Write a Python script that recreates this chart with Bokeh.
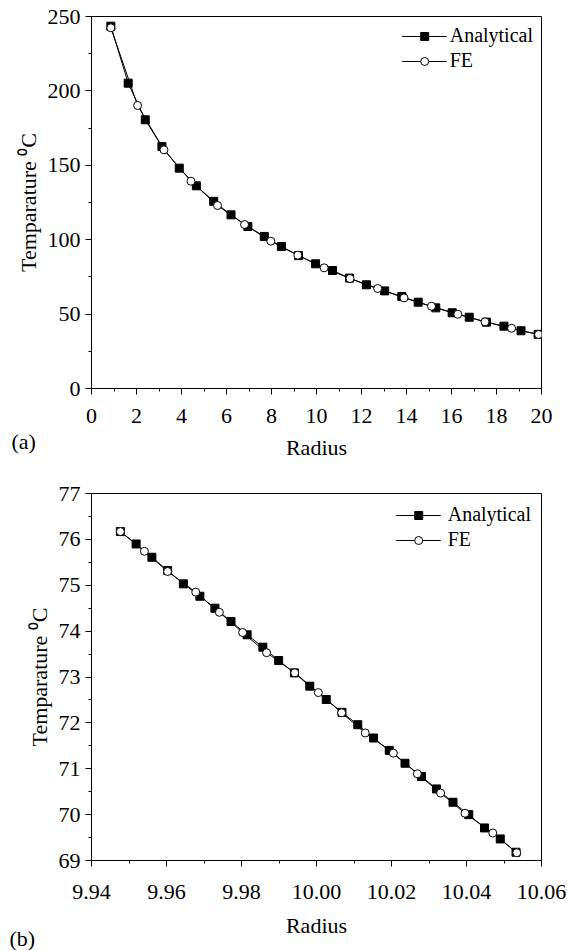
from bokeh.plotting import figure
from bokeh.layouts import column
from bokeh.models import FixedTicker, NumeralTickFormatter, Label
from bokeh.embed import file_html
from bokeh.resources import INLINE

# ---------------- data: panel (a) ----------------
a_analytical_r = [0.86, 1.63, 2.39, 3.13, 3.90, 4.66, 5.43, 6.20, 6.95, 7.68, 8.44, 9.20, 9.96,
                  10.71, 11.47, 12.22, 13.03, 13.79, 14.52, 15.30, 16.03, 16.79, 17.55, 18.33,
                  19.09, 19.85]
a_analytical_t = [243.5, 205.2, 180.6, 162.6, 148.1, 136.2, 125.8, 116.7, 108.9, 102.2, 95.4,
                  89.3, 83.8, 79.3, 74.2, 69.7, 65.6, 61.8, 58.0, 54.2, 50.9, 47.9, 44.6, 41.9,
                  38.8, 36.4]
a_fe_r = [0.86, 2.05, 3.22, 4.42, 5.60, 6.80, 7.97, 9.17, 10.34, 11.49, 12.72, 13.89, 15.11,
          16.28, 17.49, 18.67, 19.87]
a_fe_t = [242.4, 190.2, 160.4, 139.3, 123.0, 110.2, 99.0, 89.6, 81.1, 73.9, 67.2, 60.9, 55.3,
          49.9, 44.8, 40.5, 36.3]
a_x_ticks = [0, 2, 4, 6, 8, 10, 12, 14, 16, 18, 20]
a_x_minor = [1, 3, 5, 7, 9, 11, 13, 15, 17, 19]
a_y_ticks = [0, 50, 100, 150, 200, 250]
a_y_minor = [25, 75, 125, 175, 225]

# ---------------- data: panel (b) ----------------
b_analytical_r = [9.9477, 9.9519, 9.9561, 9.9603, 9.9645, 9.9689, 9.9729, 9.9772, 9.9815,
                  9.9857, 9.9899, 9.9941, 9.9982, 10.0026, 10.0068, 10.0110, 10.0152, 10.0194,
                  10.0236, 10.0280, 10.0320, 10.0364, 10.0406, 10.0448, 10.0490, 10.0532]
b_analytical_t = [76.17, 75.90, 75.61, 75.32, 75.03, 74.76, 74.50, 74.21, 73.92, 73.65, 73.36,
                  73.09, 72.80, 72.51, 72.23, 71.96, 71.67, 71.40, 71.12, 70.83, 70.56, 70.27,
                  70.00, 69.71, 69.47, 69.18]
b_fe_r = [9.9477, 9.9541, 9.9603, 9.9678, 9.9741, 9.9803, 9.9867, 9.9942, 10.0005, 10.0067,
          10.0130, 10.0205, 10.0269, 10.0331, 10.0396, 10.0470, 10.0534]
b_fe_t = [76.17, 75.74, 75.30, 74.85, 74.41, 73.97, 73.53, 73.09, 72.66, 72.22, 71.78, 71.34,
          70.89, 70.47, 70.03, 69.60, 69.17]
b_x_ticks = [9.94, 9.96, 9.98, 10.00, 10.02, 10.04, 10.06]
b_x_minor = [9.95, 9.97, 9.99, 10.01, 10.03, 10.05]
b_y_ticks = [69, 70, 71, 72, 73, 74, 75, 76, 77]
b_y_minor = [69.5, 70.5, 71.5, 72.5, 73.5, 74.5, 75.5, 76.5]

x_title = "Radius"
y_title = "Temparature \u2070C"
series_names = ["Analytical", "FE"]

FONT = "Liberation Serif"


def make_panel(ar, at, fr, ft, xt, xm, yt, ym, xr, yr, w, h, borders, tag, tag_pos, leg, stand):
    p = figure(width=w, height=h, x_range=xr, y_range=yr, output_backend="svg",
               toolbar_location=None, min_border_left=borders[0], min_border_right=borders[1],
               min_border_top=borders[2], min_border_bottom=borders[3])
    p.grid.visible = False
    p.outline_line_color = "black"
    p.outline_line_width = 1
    p.background_fill_color = "white"
    p.border_fill_color = "white"

    p.line(ar, at, line_color="black", line_width=1, legend_label=series_names[0])
    p.scatter(ar, at, marker="square", size=8, fill_color="black", line_color="black",
              legend_label=series_names[0])
    p.line(fr, ft, line_color="black", line_width=1, legend_label=series_names[1])
    p.scatter(fr, ft, marker="circle", size=8, fill_color="white", line_color="black",
              line_width=1, legend_label=series_names[1])

    p.xaxis.ticker = FixedTicker(ticks=xt, minor_ticks=xm)
    p.yaxis.ticker = FixedTicker(ticks=yt, minor_ticks=ym)
    for ax in (p.xaxis, p.yaxis):
        ax.axis_line_color = "black"
        ax.major_tick_line_color = "black"
        ax.minor_tick_line_color = "black"
        ax.major_tick_in = 0
        ax.major_tick_out = 6
        ax.minor_tick_in = 0
        ax.minor_tick_out = 3
        ax.major_label_text_font = FONT
        ax.major_label_text_font_size = "22px"
        ax.major_label_text_color = "black"
        ax.axis_label_text_font = FONT
        ax.axis_label_text_font_size = "22px"
        ax.axis_label_text_font_style = "normal"
        ax.axis_label_text_color = "black"
    p.xaxis.axis_label = x_title
    p.yaxis.axis_label = y_title
    p.xaxis.major_label_standoff = stand[0]
    p.xaxis.axis_label_standoff = stand[1]
    p.yaxis.major_label_standoff = 5
    p.yaxis.axis_label_standoff = 4

    lg = p.legend[0]
    lg.location = "top_right"
    lg.background_fill_alpha = 0
    lg.border_line_color = None
    lg.label_text_font = FONT
    lg.label_text_font_size = "20px"
    lg.label_text_color = "black"
    lg.glyph_width = 45
    lg.glyph_height = 20
    lg.label_height = 20
    lg.spacing = 2
    lg.margin = leg[0]
    lg.padding = leg[1]
    lg.label_standoff = leg[2]

    p.add_layout(Label(x=tag_pos[0], y=tag_pos[1], x_units="screen", y_units="screen",
                       text=tag, text_font=FONT, text_font_size="22px",
                       text_baseline="middle", text_color="black"), "right")
    return p


p1 = make_panel(a_analytical_r, a_analytical_t, a_fe_r, a_fe_t, a_x_ticks, a_x_minor,
                a_y_ticks, a_y_minor, (0, 20), (0, 250), 567, 470, (88, 24, 16, 82),
                "(a)", (-530, -53), (8, 2, 3), (14, 9))
p1.xaxis.formatter = NumeralTickFormatter(format="0")

p2 = make_panel(b_analytical_r, b_analytical_t, b_fe_r, b_fe_t, b_x_ticks, b_x_minor,
                b_y_ticks, b_y_minor, (9.94, 10.06), (69, 77), 567, 480, (91, 24, 23, 90),
                "(b)", (-532, -78), (10, 2, 7), (18, 11))
p2.xaxis.formatter = NumeralTickFormatter(format="0.00")

layout = column(p1, p2, spacing=0)
open("out.html", "w").write(file_html(layout, INLINE))
